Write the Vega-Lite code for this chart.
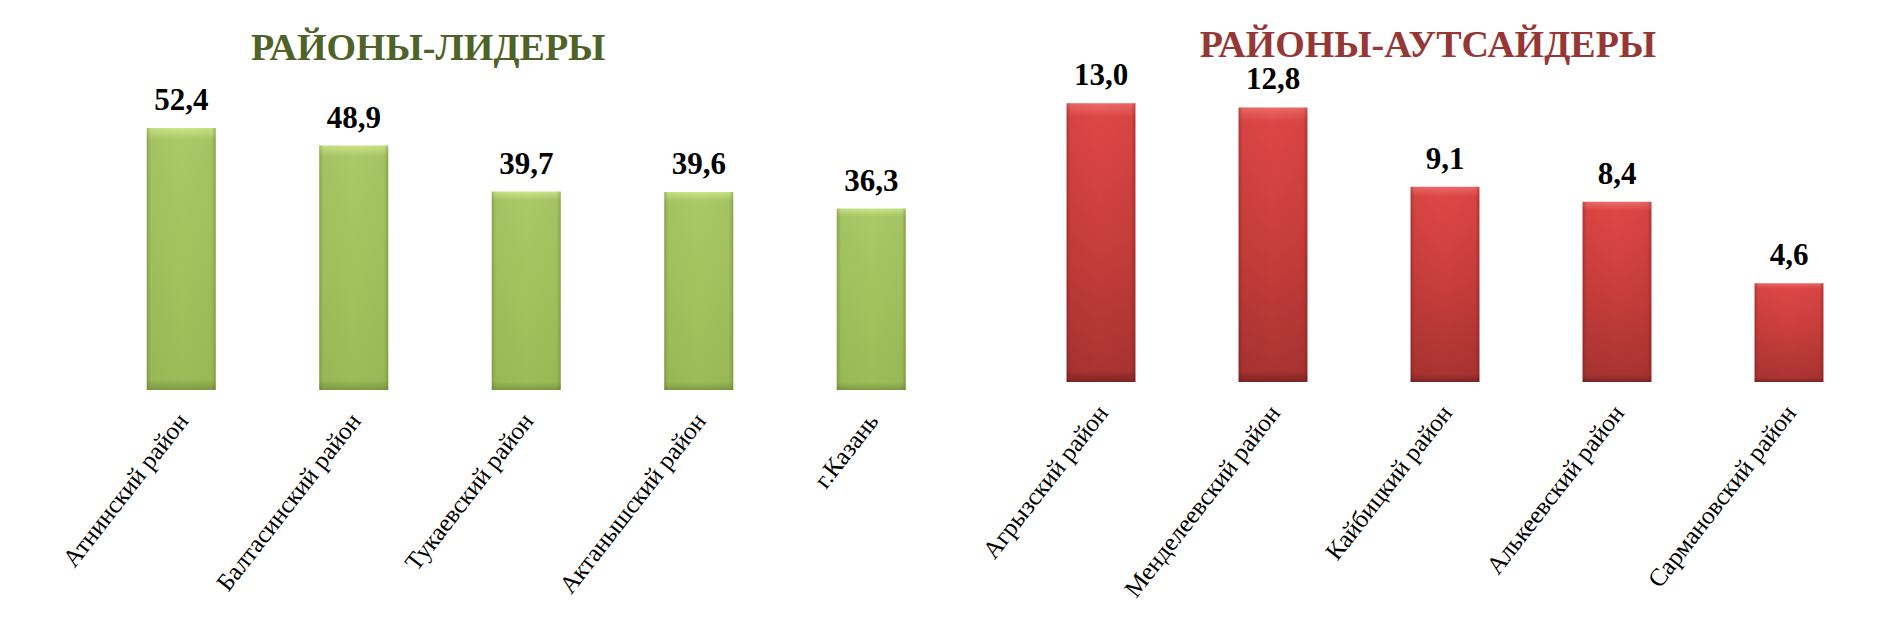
{
  "$schema": "https://vega.github.io/schema/vega-lite/v6.json",
  "background": "white",
  "padding": {"left": 58, "top": 27, "right": 5, "bottom": 5},
  "bounds": "flush",
  "spacing": 57,
  "config": {
    "view": {"stroke": null},
    "font": "Liberation Serif",
    "locale": {"number": {"decimal": ",", "thousands": " ", "grouping": [3], "currency": ["", " ₽"]}},
    "axisX": {
      "domain": false, "ticks": false, "grid": false, "title": null,
      "labelAngle": -52, "labelFont": "Liberation Serif", "labelFontSize": 25,
      "labelColor": "#000000", "labelPadding": 26, "labelOffset": 2, "labelLimit": 400
    }
  },
  "hconcat": [
    {
      "width": 862.5,
      "height": 350,
      "title": {"text": "РАЙОНЫ-ЛИДЕРЫ", "color": "#4F6228", "fontSize": 38, "font": "Liberation Serif", "fontWeight": "bold", "frame": "group", "anchor": "middle", "dx": -98, "offset": 0, "dy": 28},
      "data": {"values": [
        {"district": "Атнинский район", "value": 52.4},
        {"district": "Балтасинский район", "value": 48.9},
        {"district": "Тукаевский район", "value": 39.7},
        {"district": "Актанышский район", "value": 39.6},
        {"district": "г.Казань", "value": 36.3}
      ]},
      "encoding": {
        "x": {"field": "district", "type": "nominal", "sort": null, "scale": {"paddingInner": 0.6, "paddingOuter": 0.3}},
        "y": {"field": "value", "type": "quantitative", "scale": {"domain": [0, 70]}, "axis": null}
      },
      "layer": [
        {"mark": {"type": "bar", "color": {"gradient": "linear", "x1": 0, "y1": 0, "x2": 0, "y2": 1, "stops": [
          {"offset": 0, "color": "#CBE68A"}, {"offset": 0.045, "color": "#A9C866"}, {"offset": 0.5, "color": "#A3C35F"}, {"offset": 0.96, "color": "#9CBC59"}, {"offset": 1, "color": "#7E9A44"}]}}},
        {"mark": {"type": "bar", "color": {"gradient": "linear", "x1": 0, "y1": 0, "x2": 1, "y2": 0, "stops": [
          {"offset": 0, "color": "rgba(80,100,30,0.35)"}, {"offset": 0.06, "color": "rgba(80,100,30,0.05)"}, {"offset": 0.5, "color": "rgba(80,100,30,0)"}, {"offset": 0.94, "color": "rgba(80,100,30,0.05)"}, {"offset": 1, "color": "rgba(80,100,30,0.35)"}]}}},
        {"mark": {"type": "text", "baseline": "alphabetic", "dy": -18, "fontSize": 31, "fontWeight": "bold", "font": "Liberation Serif", "color": "#000000"},
         "encoding": {"text": {"field": "value", "type": "quantitative", "format": ".1f"}}}
      ]
    },
    {
      "width": 860,
      "height": 342,
      "title": {"text": "РАЙОНЫ-АУТСАЙДЕРЫ", "color": "#953735", "fontSize": 38, "font": "Liberation Serif", "fontWeight": "bold", "frame": "group", "anchor": "middle", "dx": -17, "offset": 0, "dy": 25},
      "data": {"values": [
        {"district": "Агрызский район", "value": 13.0},
        {"district": "Менделеевский район", "value": 12.8},
        {"district": "Кайбицкий район", "value": 9.1},
        {"district": "Алькеевский район", "value": 8.4},
        {"district": "Сармановский район", "value": 4.6}
      ]},
      "encoding": {
        "x": {"field": "district", "type": "nominal", "sort": null, "scale": {"paddingInner": 0.6, "paddingOuter": 0.3}},
        "y": {"field": "value", "type": "quantitative", "scale": {"domain": [0, 15.944]}, "axis": null}
      },
      "layer": [
        {"mark": {"type": "bar", "color": {"gradient": "linear", "x1": 0, "y1": 0, "x2": 0, "y2": 1, "stops": [
          {"offset": 0, "color": "#EE6B68"}, {"offset": 0.05, "color": "#DD4745"}, {"offset": 0.5, "color": "#C93E3C"}, {"offset": 0.96, "color": "#AA3432"}, {"offset": 1, "color": "#7E2523"}]}}},
        {"mark": {"type": "bar", "color": {"gradient": "linear", "x1": 0, "y1": 0, "x2": 1, "y2": 0, "stops": [
          {"offset": 0, "color": "rgba(90,20,20,0.35)"}, {"offset": 0.06, "color": "rgba(90,20,20,0.05)"}, {"offset": 0.5, "color": "rgba(90,20,20,0)"}, {"offset": 0.94, "color": "rgba(90,20,20,0.05)"}, {"offset": 1, "color": "rgba(90,20,20,0.35)"}]}}},
        {"mark": {"type": "text", "baseline": "alphabetic", "dy": -18, "fontSize": 31, "fontWeight": "bold", "font": "Liberation Serif", "color": "#000000"},
         "encoding": {"text": {"field": "value", "type": "quantitative", "format": ".1f"}}}
      ]
    }
  ]
}
